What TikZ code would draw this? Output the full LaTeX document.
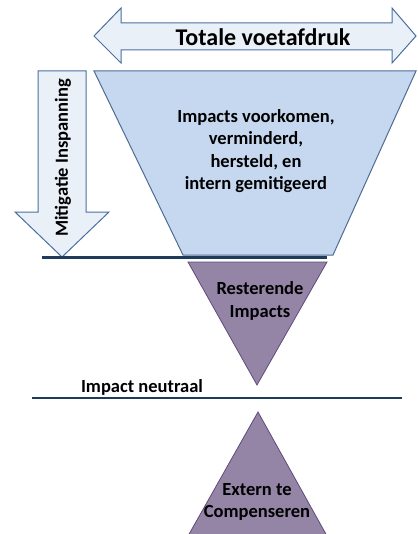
\documentclass[tikz,border=0pt]{standalone}
\usepackage{fontspec}
\setmainfont{Carlito}
\definecolor{arrowfill}{HTML}{EAF0F8}
\definecolor{arrowdraw}{HTML}{4A6F9E}
\definecolor{trapfill}{HTML}{C6D8F0}
\definecolor{trapdraw}{HTML}{4F6B94}
\definecolor{purplefill}{HTML}{9484A6}
\definecolor{purpledraw}{HTML}{604A7B}
\definecolor{navy}{HTML}{1F3B5C}
\tikzset{
  lbl/.style={font=\bfseries\fontsize{18.5bp}{22.5bp}\selectfont, align=center, inner sep=0pt, text=black},
  bluearrow/.style={fill=arrowfill, draw=arrowdraw, line width=1bp, line join=miter},
  trap/.style={fill=trapfill, draw=trapdraw, line width=1bp},
  purp/.style={fill=purplefill, draw=purpledraw, line width=0.8bp},
  levelline/.style={draw=navy, line width=2.5bp}
}
\begin{document}
\begin{tikzpicture}[x=1bp,y=-1bp]
\useasboundingbox (0,0) rectangle (417,534);
\begin{scope}
\clip (0,0) rectangle (417,534);
% double arrow
\draw[bluearrow] (94,36) -- (121,8) -- (121,23) -- (392,23) -- (392,8) -- (416,36) -- (392,63) -- (392,50) -- (121,50) -- (121,63) -- cycle;
\node[lbl, font=\bfseries\fontsize{24bp}{28bp}\selectfont] (total) at (263,37) {Totale voetafdruk};
% trapezoid
\draw[trap] (94,71) -- (416,71) -- (333,255) -- (183,255) -- cycle;
\node[lbl] (impacts) at (256,151) {Impacts voorkomen,\\verminderd,\\hersteld, en\\intern gemitigeerd};
% down arrow
\draw[bluearrow] (38,71) -- (86,71) -- (86,212) -- (109,212) -- (62,257) -- (15,212) -- (38,212) -- cycle;
\node[lbl, rotate=90] (mitig) at (63,158) {Mitigatie Inspanning};
% line 1
\coordinate (l1a) at (42,257.5);
\coordinate (l1b) at (327,257.5);
\draw[levelline] (l1a) -- (l1b);
% resterende triangle
\draw[purp] (188,262) -- (327,262) -- (257,385) -- cycle;
\node[lbl] (rest) at (260,301) {Resterende\\Impacts};
% impact neutraal
\node[lbl] (neutraal) at (142,387) {Impact neutraal};
\coordinate (l2a) at (32,398);
\coordinate (l2b) at (402,398);
\draw[levelline] (l2a) -- (l2b);
% extern triangle
\draw[purp] (258,412) -- (327,536) -- (188,536) -- cycle;
\node[lbl] (extern) at (257,502) {Extern te\\Compenseren};
\end{scope}
\end{tikzpicture}
\end{document}
